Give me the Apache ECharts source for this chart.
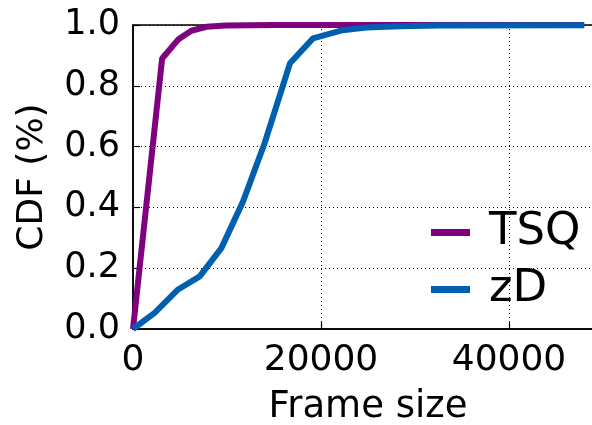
<!DOCTYPE html>
<html>
<head>
<meta charset="utf-8">
<script src="https://cdn.jsdelivr.net/npm/echarts@6/dist/echarts.min.js"></script>
<style>
  html, body { margin: 0; padding: 0; background: #fff; }
  /* the plot runs past the right edge of the frame, so its border is cut off there */
  #frame { width: 592px; height: 425px; overflow: hidden; position: relative; }
  #chart { width: 603px; height: 425px; position: absolute; left: 0; top: 0; }
</style>
</head>
<body>
<div id="frame"><div id="chart"></div></div>
<script>
// Frame-size CDF points: [frame size, cumulative fraction]
const tsqSizes = [0, 3100, 4800, 6200, 7800, 9900, 15000, 25000, 48000];
const tsqCdf   = [0, 0.89, 0.952, 0.981, 0.994, 0.998, 1.0, 1.0, 1.0];
const zdSizes  = [0, 2300, 4800, 7100, 9400, 11700, 14000, 16700, 19150, 22300, 24800, 28400, 32600, 48000];
const zdCdf    = [0, 0.053, 0.13, 0.173, 0.266, 0.419, 0.611, 0.874, 0.956, 0.983, 0.992, 0.996, 0.998, 0.999];
const seriesNames = ['TSQ', 'zD'];
const xTicks = [0, 20000, 40000];
const yTicks = [0.0, 0.2, 0.4, 0.6, 0.8, 1.0];

const FONT = 'DejaVu Sans';
const pair = (xs, ys) => xs.map((x, i) => [x, ys[i]]);

const chart = echarts.init(document.getElementById('chart'), null, { renderer: 'canvas' });

chart.setOption({
  animation: false,
  backgroundColor: '#fff',
  grid: {
    left: 133, right: 0, top: 25, bottom: 96,
    outerBoundsMode: 'none', containLabel: false,
    show: true, borderColor: '#000', borderWidth: 1.5, backgroundColor: 'transparent'
  },
  legend: {
    data: seriesNames.map(n => ({ name: n, icon: 'rect' })),
    orient: 'vertical',
    left: 431, top: 210, padding: 0,
    itemWidth: 39, itemHeight: 7, itemGap: 12,
    textStyle: { fontFamily: FONT, fontSize: 45, color: '#000', padding: [0, 0, 12, 14] }
  },
  xAxis: {
    type: 'value', min: 0, max: 50000, interval: 20000,
    name: 'Frame size', nameLocation: 'middle', nameGap: 60,
    nameTextStyle: { fontFamily: FONT, fontSize: 37, color: '#000' },
    axisLine: { lineStyle: { color: '#000', width: 1.5 } },
    axisTick: { inside: true, length: 7, lineStyle: { color: '#000', width: 1.2 } },
    axisLabel: {
      fontFamily: FONT, fontSize: 36, color: '#000', margin: 14,
      formatter: v => (xTicks.includes(v) ? String(v) : '')
    },
    splitLine: { show: true, lineStyle: { color: '#000', width: 1, type: [1, 3] } }
  },
  yAxis: {
    type: 'value', min: 0, max: 1, interval: 0.2,
    name: 'CDF (%)', nameLocation: 'middle', nameGap: 82,
    nameTextStyle: { fontFamily: FONT, fontSize: 36, color: '#000' },
    axisLine: { lineStyle: { color: '#000', width: 1.5 } },
    axisTick: { inside: true, length: 7, lineStyle: { color: '#000', width: 1.2 } },
    axisLabel: {
      fontFamily: FONT, fontSize: 35, color: '#000', margin: 13,
      formatter: v => yTicks.find(t => Math.abs(t - v) < 1e-9).toFixed(1)
    },
    splitLine: { show: true, lineStyle: { color: '#000', width: 1, type: [1, 3] } }
  },
  series: [
    {
      name: seriesNames[0], type: 'line', data: pair(tsqSizes, tsqCdf),
      showSymbol: false, symbol: 'none', clip: true,
      lineStyle: { color: '#800080', width: 6 }, itemStyle: { color: '#800080' }
    },
    {
      name: seriesNames[1], type: 'line', data: pair(zdSizes, zdCdf),
      showSymbol: false, symbol: 'none', clip: true,
      lineStyle: { color: '#0060b0', width: 6 }, itemStyle: { color: '#0060b0' }
    }
  ]
});
</script>
</body>
</html>
